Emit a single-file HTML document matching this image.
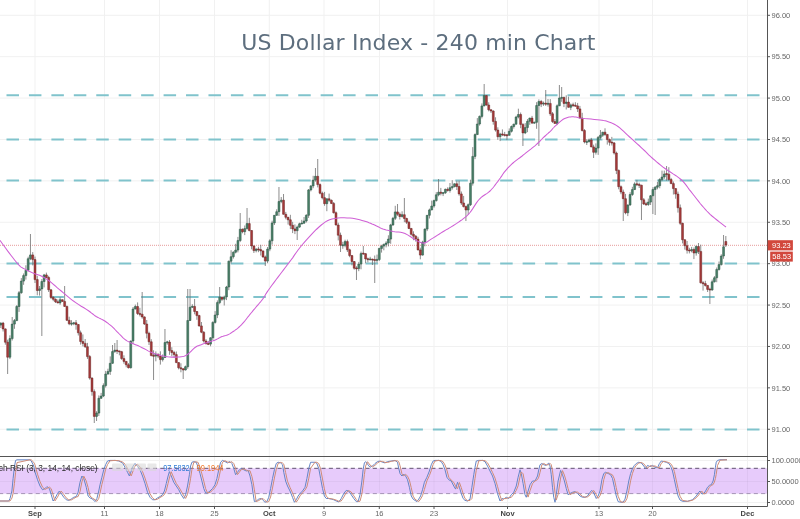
<!DOCTYPE html>
<html><head><meta charset="utf-8"><title>US Dollar Index - 240 min Chart</title>
<style>html,body{margin:0;padding:0;background:#fff;width:800px;height:519px;overflow:hidden}</style>
</head><body>
<svg width="800" height="519" viewBox="0 0 800 519" style="display:block;filter:blur(0.3px)">
<rect width="800" height="519" fill="#fff"/>
<path d="M35 0V506.5M104.5 0V506.5M159.5 0V506.5M214.5 0V506.5M269.3 0V506.5M324 0V506.5M379.5 0V506.5M434 0V506.5M507.5 0V506.5M599 0V506.5M652.5 0V506.5M747.5 0V506.5M0 15.3H767.5M0 56.69500000000001H767.5M0 98.09H767.5M0 139.485H767.5M0 180.88000000000002H767.5M0 222.27500000000003H767.5M0 263.67H767.5M0 305.06500000000005H767.5M0 346.46000000000004H767.5M0 387.855H767.5M0 429.25000000000006H767.5M0 460.5H767.5M0 481.5H767.5M0 502.5H767.5" stroke="#f1f1f1" stroke-width="1" fill="none"/>
<line x1="6.5" y1="95.3" x2="760" y2="95.3" stroke="#80c3cc" stroke-width="2" stroke-dasharray="12.5 9.94"/>
<line x1="6.5" y1="139.6" x2="760" y2="139.6" stroke="#80c3cc" stroke-width="2" stroke-dasharray="12.5 9.94"/>
<line x1="6.5" y1="180.5" x2="760" y2="180.5" stroke="#80c3cc" stroke-width="2" stroke-dasharray="12.5 9.94"/>
<line x1="6.5" y1="263.5" x2="760" y2="263.5" stroke="#80c3cc" stroke-width="2" stroke-dasharray="12.5 9.94"/>
<line x1="6.5" y1="297" x2="760" y2="297" stroke="#80c3cc" stroke-width="2" stroke-dasharray="12.5 9.94"/>
<line x1="6.5" y1="429.5" x2="760" y2="429.5" stroke="#80c3cc" stroke-width="2" stroke-dasharray="12.5 9.94"/>
<line x1="0" y1="245.3" x2="767.5" y2="245.3" stroke="#e79a9a" stroke-width="1" stroke-dasharray="1 1"/>
<path d="M0.80 322.3V328.0M3.08 321.9V331.5M5.36 328.4V344.7M7.64 339.7V374.0M9.92 335.3V359.1M12.20 317.0V340.5M14.48 319.0V328.8M16.76 305.1V321.1M19.04 291.0V311.9M21.32 278.1V293.8M23.60 273.5V284.8M25.88 265.3V279.6M28.16 256.7V271.4M30.44 234.0V260.1M32.72 252.1V265.4M35.00 256.6V283.0M37.28 275.8V295.3M39.56 286.0V295.6M41.84 279.1V336.0M44.12 273.9V287.4M46.40 272.6V278.0M48.68 275.8V292.0M50.96 289.2V298.9M53.24 296.1V301.2M55.52 298.4V303.0M57.80 299.5V303.3M60.08 297.2V304.8M62.36 299.4V301.9M64.64 286.0V306.8M66.92 305.7V320.9M69.20 316.7V325.2M71.48 320.2V325.7M73.76 321.9V325.2M76.04 320.0V329.7M78.32 324.1V335.5M80.60 330.6V344.6M82.88 334.4V346.4M85.16 339.0V348.0M87.44 342.9V358.9M89.72 355.0V379.7M92.00 377.3V395.7M94.28 389.4V423.0M96.56 411.2V421.0M98.84 395.4V416.0M101.12 392.9V398.9M103.40 383.4V397.1M105.68 370.9V387.5M107.96 368.7V374.8M110.24 356.4V374.9M112.52 345.0V363.8M114.80 343.0V352.8M117.08 340.0V354.0M119.36 350.6V355.3M121.64 350.9V359.8M123.92 355.3V363.7M126.20 361.0V367.3M128.48 363.1V368.5M130.76 340.5V368.6M133.04 307.0V344.0M135.32 304.6V309.4M137.60 302.4V315.0M139.88 307.8V316.4M142.16 292.0V318.7M144.44 316.4V324.9M146.72 320.0V338.4M149.00 331.7V345.0M151.28 339.2V356.3M153.56 350.3V380.0M155.84 351.4V361.3M158.12 353.7V358.1M160.40 351.3V364.6M162.68 354.4V361.5M164.96 329.0V357.8M167.24 340.8V344.7M169.52 340.0V354.8M171.80 347.2V356.2M174.08 350.9V357.6M176.36 351.5V363.1M178.64 362.3V369.4M180.92 363.3V372.3M183.20 368.4V379.0M185.48 365.6V370.5M187.76 289.0V368.8M190.04 289.0V321.0M192.32 304.2V308.0M194.60 299.0V314.3M196.88 311.1V319.8M199.16 314.8V326.6M201.44 322.0V333.2M203.72 331.1V342.5M206.00 339.1V344.2M208.28 340.9V345.1M210.56 337.3V346.3M212.84 321.3V340.0M215.12 311.1V323.6M217.40 300.4V318.1M219.68 287.0V304.2M221.96 296.6V300.9M224.24 295.6V305.5M226.52 285.9V300.1M228.80 260.6V290.2M231.08 250.2V263.4M233.36 251.3V258.6M235.64 243.8V253.4M237.92 236.9V252.4M240.20 213.0V242.1M242.48 228.5V233.3M244.76 225.5V235.1M247.04 208.0V229.5M249.32 217.8V231.4M251.60 230.2V249.3M253.88 245.6V253.0M256.16 248.2V252.4M258.44 246.7V252.2M260.72 244.8V255.5M263.00 250.6V257.9M265.28 255.5V266.0M267.56 247.0V263.2M269.84 239.2V251.2M272.12 220.7V244.5M274.40 215.0V225.0M276.68 209.3V215.8M278.96 187.0V216.0M281.24 197.0V203.2M283.52 194.0V214.6M285.80 211.9V219.3M288.08 216.9V224.6M290.36 214.8V229.1M292.64 221.8V233.1M294.92 224.4V234.1M297.20 225.6V240.0M299.48 222.7V227.8M301.76 219.8V224.3M304.04 217.0V223.6M306.32 214.2V222.5M308.60 189.0V217.9M310.88 185.1V191.4M313.16 175.8V188.2M315.44 168.0V181.7M317.72 159.0V187.4M320.00 183.4V194.3M322.28 191.6V199.4M324.56 191.9V205.8M326.84 198.4V211.2M329.12 193.6V201.9M331.40 199.5V204.1M333.68 202.0V213.6M335.96 211.4V225.4M338.24 222.7V240.4M340.52 232.6V252.0M342.80 241.8V248.8M345.08 239.7V247.3M347.36 239.6V252.0M349.64 248.7V257.2M351.92 255.0V265.4M354.20 261.1V269.7M356.48 266.2V280.0M358.76 261.9V271.2M361.04 251.6V269.3M363.32 246.0V254.8M365.60 253.0V263.2M367.88 257.6V262.4M370.16 256.8V260.3M372.44 258.7V265.0M374.72 255.5V283.0M377.00 254.6V262.7M379.28 247.8V261.0M381.56 244.8V252.6M383.84 243.6V250.3M386.12 241.2V247.4M388.40 235.3V246.4M390.68 223.8V243.8M392.96 216.9V225.9M395.24 205.8V220.0M397.52 204.0V215.8M399.80 212.4V219.5M402.08 211.3V217.6M404.36 198.0V222.2M406.64 217.7V224.0M408.92 220.8V229.1M411.20 227.9V235.6M413.48 231.3V240.2M415.76 235.0V241.6M418.04 236.8V250.4M420.32 247.7V259.3M422.60 240.8V255.6M424.88 228.3V246.3M427.16 215.0V231.1M429.44 208.6V218.5M431.72 200.6V210.3M434.00 199.6V207.7M436.28 192.2V201.6M438.56 179.0V196.3M440.84 187.9V195.4M443.12 192.2V196.1M445.40 188.6V193.9M447.68 187.3V191.6M449.96 183.0V192.6M452.24 180.2V189.6M454.52 183.4V187.4M456.80 180.8V190.0M459.08 180.7V195.7M461.36 191.5V204.9M463.64 195.9V207.4M465.92 205.6V221.0M468.20 203.5V214.6M470.48 179.7V206.0M472.76 147.1V185.6M475.04 133.4V159.1M477.32 118.1V135.0M479.60 115.5V125.6M481.88 103.4V118.4M484.16 84.0V106.3M486.44 95.1V105.7M488.72 102.3V111.4M491.00 109.2V113.0M493.28 110.3V124.7M495.56 117.3V131.6M497.84 127.3V139.8M500.12 132.8V141.1M502.40 129.4V136.1M504.68 131.9V136.4M506.96 134.1V140.1M509.24 128.4V135.6M511.52 125.5V132.5M513.80 123.7V128.6M516.08 115.8V124.6M518.36 108.7V118.4M520.64 112.5V128.2M522.92 123.2V146.0M525.20 123.1V134.1M527.48 119.1V132.2M529.76 117.7V124.8M532.04 115.9V123.9M534.32 121.7V123.8M536.60 102.2V128.8M538.88 99.4V146.0M541.16 99.9V107.1M543.44 101.5V105.9M545.72 90.0V105.9M548.00 99.0V106.6M550.28 99.1V115.9M552.56 112.0V122.9M554.84 119.0V123.9M557.12 104.4V125.1M559.40 85.0V106.1M561.68 87.0V101.8M563.96 96.5V107.1M566.24 95.3V109.5M568.52 96.6V107.7M570.80 103.5V110.1M573.08 102.7V106.8M575.36 102.2V106.8M577.64 102.9V112.0M579.92 105.9V118.5M582.20 112.8V131.5M584.48 129.1V143.4M586.76 139.2V145.0M589.04 138.6V142.2M591.32 137.9V147.2M593.60 144.7V158.0M595.88 143.4V154.6M598.16 136.0V154.9M600.44 130.0V139.6M602.72 131.8V136.9M605.00 128.3V135.9M607.28 134.1V144.6M609.56 138.5V145.7M611.84 136.9V145.5M614.12 142.0V154.5M616.40 151.6V174.1M618.68 169.5V189.3M620.96 185.4V194.2M623.24 189.6V221.0M625.52 193.9V214.3M627.80 204.3V216.1M630.08 192.2V205.8M632.36 186.8V195.9M634.64 182.3V190.0M636.92 179.9V186.1M639.20 182.7V188.0M641.48 184.8V220.0M643.76 198.0V205.0M646.04 201.8V205.9M648.32 198.6V205.9M650.60 195.0V205.0M652.88 187.2V214.0M655.16 186.1V215.0M657.44 181.9V189.3M659.72 178.2V188.3M662.00 170.6V181.2M664.28 170.6V178.9M666.56 166.0V180.7M668.84 167.2V180.9M671.12 177.9V184.1M673.40 181.5V194.5M675.68 188.1V198.7M677.96 191.6V212.6M680.24 204.5V225.1M682.52 222.7V243.4M684.80 239.2V249.6M687.08 241.0V253.6M689.36 247.8V253.4M691.64 246.9V252.4M693.92 247.5V259.1M696.20 245.4V255.6M698.48 243.0V254.0M700.76 244.7V283.5M703.04 281.1V290.6M705.32 280.8V286.6M707.60 285.1V292.0M709.88 287.7V304.0M712.16 279.5V290.9M714.44 276.1V282.5M716.72 267.5V282.2M719.00 261.5V270.6M721.28 254.3V265.5M723.56 235.0V258.8M725.84 236.0V247.0" stroke="#707070" stroke-width="0.8" fill="none"/>
<path d="M-0.15 323.1h1.9V325.1h-1.9zM8.97 338.6h1.9V357.2h-1.9zM11.25 324.1h1.9V338.6h-1.9zM13.53 320.6h1.9V324.1h-1.9zM15.81 306.5h1.9V320.6h-1.9zM18.09 292.7h1.9V306.5h-1.9zM20.37 281.1h1.9V292.7h-1.9zM22.65 275.6h1.9V281.1h-1.9zM24.93 270.3h1.9V275.6h-1.9zM27.21 258.7h1.9V270.3h-1.9zM29.49 254.9h1.9V258.7h-1.9zM38.61 288.9h1.9V290.5h-1.9zM40.89 281.5h1.9V288.9h-1.9zM43.17 274.9h1.9V281.5h-1.9zM59.13 299.7h1.9V302.9h-1.9zM70.53 323.2h1.9V324.2h-1.9zM72.81 322.7h1.9V323.7h-1.9zM95.61 413.1h1.9V416.4h-1.9zM97.89 398.3h1.9V413.1h-1.9zM100.17 396.0h1.9V398.3h-1.9zM102.45 385.6h1.9V396.0h-1.9zM104.73 374.0h1.9V385.6h-1.9zM107.01 371.4h1.9V374.0h-1.9zM109.29 363.3h1.9V371.4h-1.9zM111.57 351.6h1.9V363.3h-1.9zM113.85 350.1h1.9V351.6h-1.9zM129.81 341.0h1.9V367.7h-1.9zM132.09 309.0h1.9V341.0h-1.9zM134.37 306.5h1.9V309.0h-1.9zM154.89 354.1h1.9V356.1h-1.9zM161.73 357.5h1.9V359.6h-1.9zM164.01 342.5h1.9V357.5h-1.9zM166.29 341.8h1.9V342.8h-1.9zM184.53 366.7h1.9V370.0h-1.9zM186.81 320.5h1.9V366.7h-1.9zM189.09 307.2h1.9V320.5h-1.9zM191.37 306.3h1.9V307.3h-1.9zM209.61 337.8h1.9V344.1h-1.9zM211.89 322.4h1.9V337.8h-1.9zM214.17 315.0h1.9V322.4h-1.9zM216.45 302.6h1.9V315.0h-1.9zM218.73 297.2h1.9V302.6h-1.9zM223.29 296.9h1.9V299.2h-1.9zM225.57 287.0h1.9V296.9h-1.9zM227.85 261.2h1.9V287.0h-1.9zM230.13 256.7h1.9V261.2h-1.9zM232.41 252.2h1.9V256.7h-1.9zM234.69 250.1h1.9V252.2h-1.9zM236.97 240.5h1.9V250.1h-1.9zM239.25 229.2h1.9V240.5h-1.9zM243.81 228.6h1.9V231.7h-1.9zM246.09 223.6h1.9V228.6h-1.9zM255.21 249.1h1.9V250.6h-1.9zM266.61 249.1h1.9V261.1h-1.9zM268.89 240.8h1.9V249.1h-1.9zM271.17 222.9h1.9V240.8h-1.9zM273.45 215.3h1.9V222.9h-1.9zM275.73 211.7h1.9V215.3h-1.9zM278.01 201.5h1.9V211.7h-1.9zM280.29 200.2h1.9V201.5h-1.9zM296.25 227.1h1.9V230.7h-1.9zM298.53 223.8h1.9V227.1h-1.9zM300.81 223.0h1.9V224.0h-1.9zM303.09 221.0h1.9V223.2h-1.9zM305.37 215.3h1.9V221.0h-1.9zM307.65 189.9h1.9V215.3h-1.9zM309.93 185.9h1.9V189.9h-1.9zM312.21 180.1h1.9V185.9h-1.9zM314.49 176.3h1.9V180.1h-1.9zM325.89 198.8h1.9V203.7h-1.9zM341.85 244.8h1.9V245.8h-1.9zM344.13 241.6h1.9V245.3h-1.9zM357.81 264.1h1.9V268.6h-1.9zM360.09 253.6h1.9V264.1h-1.9zM369.21 258.9h1.9V259.9h-1.9zM376.05 259.4h1.9V260.4h-1.9zM378.33 248.4h1.9V259.5h-1.9zM380.61 246.1h1.9V248.4h-1.9zM382.89 244.4h1.9V246.1h-1.9zM385.17 243.0h1.9V244.4h-1.9zM387.45 239.1h1.9V243.0h-1.9zM389.73 224.9h1.9V239.1h-1.9zM392.01 218.3h1.9V224.9h-1.9zM394.29 211.9h1.9V218.3h-1.9zM401.13 214.7h1.9V216.5h-1.9zM421.65 242.1h1.9V255.1h-1.9zM423.93 229.1h1.9V242.1h-1.9zM426.21 215.3h1.9V229.1h-1.9zM428.49 209.9h1.9V215.3h-1.9zM430.77 206.0h1.9V209.9h-1.9zM433.05 200.6h1.9V206.0h-1.9zM435.33 194.8h1.9V200.6h-1.9zM437.61 192.2h1.9V194.8h-1.9zM442.17 192.6h1.9V193.6h-1.9zM444.45 189.3h1.9V192.8h-1.9zM449.01 187.7h1.9V190.5h-1.9zM451.29 186.6h1.9V187.7h-1.9zM453.57 183.8h1.9V186.6h-1.9zM467.25 204.7h1.9V210.0h-1.9zM469.53 183.2h1.9V204.7h-1.9zM471.81 156.4h1.9V183.2h-1.9zM474.09 134.6h1.9V156.4h-1.9zM476.37 124.0h1.9V134.6h-1.9zM478.65 116.4h1.9V124.0h-1.9zM480.93 105.9h1.9V116.4h-1.9zM483.21 95.6h1.9V105.9h-1.9zM499.17 134.0h1.9V136.7h-1.9zM508.29 131.3h1.9V135.3h-1.9zM510.57 126.5h1.9V131.3h-1.9zM512.85 124.2h1.9V126.5h-1.9zM515.13 117.0h1.9V124.2h-1.9zM517.41 114.5h1.9V117.0h-1.9zM524.25 127.6h1.9V132.9h-1.9zM526.53 121.3h1.9V127.6h-1.9zM528.81 118.1h1.9V121.3h-1.9zM533.37 122.2h1.9V123.2h-1.9zM535.65 105.5h1.9V122.3h-1.9zM537.93 101.5h1.9V105.5h-1.9zM542.49 103.1h1.9V104.1h-1.9zM547.05 103.3h1.9V104.3h-1.9zM556.17 105.8h1.9V123.4h-1.9zM558.45 98.0h1.9V105.8h-1.9zM560.73 97.3h1.9V98.3h-1.9zM565.29 102.1h1.9V103.4h-1.9zM569.85 104.9h1.9V107.3h-1.9zM585.81 141.4h1.9V142.4h-1.9zM588.09 139.9h1.9V141.8h-1.9zM594.93 148.1h1.9V152.3h-1.9zM597.21 137.4h1.9V148.1h-1.9zM599.49 135.2h1.9V137.4h-1.9zM601.77 132.2h1.9V135.2h-1.9zM626.85 205.0h1.9V212.8h-1.9zM629.13 194.5h1.9V205.0h-1.9zM631.41 189.6h1.9V194.5h-1.9zM633.69 183.9h1.9V189.6h-1.9zM647.37 202.1h1.9V204.5h-1.9zM649.65 195.8h1.9V202.1h-1.9zM651.93 189.5h1.9V195.8h-1.9zM654.21 187.2h1.9V189.5h-1.9zM656.49 185.7h1.9V187.2h-1.9zM658.77 179.6h1.9V185.7h-1.9zM661.05 177.0h1.9V179.6h-1.9zM663.33 174.0h1.9V177.0h-1.9zM690.69 249.5h1.9V250.8h-1.9zM695.25 246.5h1.9V253.0h-1.9zM711.21 281.8h1.9V289.9h-1.9zM713.49 277.8h1.9V281.8h-1.9zM715.77 269.5h1.9V277.8h-1.9zM718.05 264.6h1.9V269.5h-1.9zM720.33 256.0h1.9V264.6h-1.9zM722.61 246.8h1.9V256.0h-1.9z" fill="#4a8068" stroke="#2a5444" stroke-width="0.5"/>
<path d="M2.13 323.1h1.9V328.9h-1.9zM4.41 328.9h1.9V342.2h-1.9zM6.69 342.2h1.9V357.2h-1.9zM31.77 254.9h1.9V259.6h-1.9zM34.05 259.6h1.9V279.6h-1.9zM36.33 279.6h1.9V290.5h-1.9zM45.45 274.9h1.9V277.5h-1.9zM47.73 277.5h1.9V289.8h-1.9zM50.01 289.8h1.9V297.4h-1.9zM52.29 297.4h1.9V299.3h-1.9zM54.57 299.3h1.9V301.8h-1.9zM56.85 301.8h1.9V302.9h-1.9zM61.41 299.7h1.9V301.4h-1.9zM63.69 301.4h1.9V306.4h-1.9zM65.97 306.4h1.9V320.3h-1.9zM68.25 320.3h1.9V323.8h-1.9zM75.09 322.8h1.9V324.5h-1.9zM77.37 324.5h1.9V332.8h-1.9zM79.65 332.8h1.9V341.5h-1.9zM81.93 341.5h1.9V343.4h-1.9zM84.21 343.4h1.9V346.7h-1.9zM86.49 346.7h1.9V356.6h-1.9zM88.77 356.6h1.9V378.1h-1.9zM91.05 378.1h1.9V391.6h-1.9zM93.33 391.6h1.9V416.4h-1.9zM116.13 350.1h1.9V351.2h-1.9zM118.41 350.9h1.9V351.9h-1.9zM120.69 351.7h1.9V358.6h-1.9zM122.97 358.6h1.9V361.4h-1.9zM125.25 361.4h1.9V364.8h-1.9zM127.53 364.8h1.9V367.7h-1.9zM136.65 306.5h1.9V313.5h-1.9zM138.93 313.4h1.9V314.4h-1.9zM141.21 314.2h1.9V316.9h-1.9zM143.49 316.9h1.9V324.0h-1.9zM145.77 324.0h1.9V333.3h-1.9zM148.05 333.3h1.9V341.8h-1.9zM150.33 341.8h1.9V355.6h-1.9zM152.61 355.3h1.9V356.3h-1.9zM157.17 354.1h1.9V356.1h-1.9zM159.45 356.1h1.9V359.6h-1.9zM168.57 342.1h1.9V350.6h-1.9zM170.85 350.6h1.9V352.5h-1.9zM173.13 352.5h1.9V354.6h-1.9zM175.41 354.6h1.9V362.6h-1.9zM177.69 362.6h1.9V367.8h-1.9zM179.97 367.8h1.9V368.8h-1.9zM182.25 368.7h1.9V370.0h-1.9zM193.65 306.4h1.9V311.5h-1.9zM195.93 311.5h1.9V315.6h-1.9zM198.21 315.6h1.9V325.9h-1.9zM200.49 325.9h1.9V332.2h-1.9zM202.77 332.2h1.9V341.0h-1.9zM205.05 341.0h1.9V343.8h-1.9zM207.33 343.4h1.9V344.4h-1.9zM221.01 297.2h1.9V299.2h-1.9zM241.53 229.2h1.9V231.7h-1.9zM248.37 223.6h1.9V230.5h-1.9zM250.65 230.5h1.9V245.9h-1.9zM252.93 245.9h1.9V250.6h-1.9zM257.49 248.9h1.9V249.9h-1.9zM259.77 249.6h1.9V250.9h-1.9zM262.05 250.9h1.9V256.9h-1.9zM264.33 256.9h1.9V261.1h-1.9zM282.57 200.2h1.9V214.3h-1.9zM284.85 214.3h1.9V217.3h-1.9zM287.13 217.3h1.9V219.8h-1.9zM289.41 219.8h1.9V225.3h-1.9zM291.69 225.3h1.9V228.9h-1.9zM293.97 228.9h1.9V230.7h-1.9zM316.77 176.3h1.9V184.6h-1.9zM319.05 184.6h1.9V193.2h-1.9zM321.33 193.2h1.9V197.7h-1.9zM323.61 197.7h1.9V203.7h-1.9zM328.17 198.8h1.9V200.3h-1.9zM330.45 200.3h1.9V203.4h-1.9zM332.73 203.4h1.9V212.7h-1.9zM335.01 212.7h1.9V225.0h-1.9zM337.29 225.0h1.9V235.2h-1.9zM339.57 235.2h1.9V245.3h-1.9zM346.41 241.6h1.9V249.8h-1.9zM348.69 249.8h1.9V255.6h-1.9zM350.97 255.6h1.9V261.5h-1.9zM353.25 261.5h1.9V268.2h-1.9zM355.53 267.9h1.9V268.9h-1.9zM362.37 253.1h1.9V254.1h-1.9zM364.65 253.7h1.9V258.9h-1.9zM366.93 258.7h1.9V259.7h-1.9zM371.49 259.1h1.9V260.1h-1.9zM373.77 259.6h1.9V260.6h-1.9zM396.57 211.9h1.9V214.2h-1.9zM398.85 214.2h1.9V216.5h-1.9zM403.41 214.7h1.9V218.5h-1.9zM405.69 218.5h1.9V222.3h-1.9zM407.97 222.3h1.9V228.5h-1.9zM410.25 228.5h1.9V234.3h-1.9zM412.53 234.3h1.9V236.2h-1.9zM414.81 236.2h1.9V239.1h-1.9zM417.09 239.1h1.9V249.9h-1.9zM419.37 249.9h1.9V255.1h-1.9zM439.89 192.2h1.9V193.3h-1.9zM446.73 189.3h1.9V190.5h-1.9zM455.85 183.8h1.9V186.5h-1.9zM458.13 186.5h1.9V193.9h-1.9zM460.41 193.9h1.9V203.0h-1.9zM462.69 203.0h1.9V206.6h-1.9zM464.97 206.6h1.9V210.0h-1.9zM485.49 95.6h1.9V105.0h-1.9zM487.77 105.0h1.9V109.8h-1.9zM490.05 109.8h1.9V111.0h-1.9zM492.33 111.0h1.9V121.4h-1.9zM494.61 121.4h1.9V130.1h-1.9zM496.89 130.1h1.9V136.7h-1.9zM501.45 133.9h1.9V134.9h-1.9zM503.73 134.6h1.9V135.6h-1.9zM506.01 134.8h1.9V135.8h-1.9zM519.69 114.5h1.9V124.4h-1.9zM521.97 124.4h1.9V132.9h-1.9zM531.09 118.1h1.9V123.1h-1.9zM540.21 101.5h1.9V104.1h-1.9zM544.77 103.1h1.9V104.2h-1.9zM549.33 103.4h1.9V113.8h-1.9zM551.61 113.8h1.9V121.6h-1.9zM553.89 121.6h1.9V123.4h-1.9zM563.01 97.5h1.9V103.4h-1.9zM567.57 102.1h1.9V107.3h-1.9zM572.13 104.7h1.9V105.7h-1.9zM574.41 105.2h1.9V106.2h-1.9zM576.69 105.9h1.9V108.9h-1.9zM578.97 108.9h1.9V118.1h-1.9zM581.25 118.1h1.9V130.5h-1.9zM583.53 130.5h1.9V141.9h-1.9zM590.37 139.9h1.9V146.9h-1.9zM592.65 146.9h1.9V152.3h-1.9zM604.05 132.2h1.9V134.4h-1.9zM606.33 134.4h1.9V139.6h-1.9zM608.61 139.6h1.9V142.3h-1.9zM610.89 142.1h1.9V143.1h-1.9zM613.17 142.9h1.9V153.0h-1.9zM615.45 153.0h1.9V170.4h-1.9zM617.73 170.4h1.9V186.7h-1.9zM620.01 186.7h1.9V192.0h-1.9zM622.29 192.0h1.9V198.7h-1.9zM624.57 198.7h1.9V212.8h-1.9zM635.97 183.8h1.9V184.8h-1.9zM638.25 184.4h1.9V185.4h-1.9zM640.53 185.2h1.9V199.8h-1.9zM642.81 199.8h1.9V204.0h-1.9zM645.09 203.7h1.9V204.7h-1.9zM665.61 173.6h1.9V174.6h-1.9zM667.89 174.2h1.9V179.5h-1.9zM670.17 179.5h1.9V183.6h-1.9zM672.45 183.6h1.9V188.6h-1.9zM674.73 188.6h1.9V194.1h-1.9zM677.01 194.1h1.9V207.8h-1.9zM679.29 207.8h1.9V223.3h-1.9zM681.57 223.3h1.9V239.8h-1.9zM683.85 239.8h1.9V245.7h-1.9zM686.13 245.7h1.9V250.2h-1.9zM688.41 250.0h1.9V251.0h-1.9zM692.97 249.5h1.9V253.0h-1.9zM697.53 246.5h1.9V251.4h-1.9zM699.81 251.4h1.9V282.8h-1.9zM702.09 282.7h1.9V283.7h-1.9zM704.37 283.6h1.9V285.4h-1.9zM706.65 285.4h1.9V289.4h-1.9zM708.93 289.1h1.9V290.1h-1.9zM724.89 241.5h1.9V245.0h-1.9z" fill="#a83a3a" stroke="#6a2222" stroke-width="0.5"/>
<path d="M0.0 240.4 L1.0 241.8 L2.4 243.7 L4.1 246.0 L5.9 248.5 L7.6 250.9 L9.3 253.1 L10.9 255.2 L12.5 257.3 L14.2 259.5 L15.8 261.5 L17.2 263.2 L18.5 264.7 L19.5 265.7 L20.2 266.4 L20.8 266.9 L21.4 267.3 L22.1 267.6 L23.1 268.2 L24.4 268.9 L25.9 269.7 L27.5 270.5 L29.1 271.3 L30.8 272.1 L32.4 272.8 L34.0 273.4 L35.5 274.0 L37.1 274.5 L38.7 275.0 L40.2 275.6 L41.7 276.3 L43.1 277.0 L44.5 277.8 L45.9 278.6 L47.2 279.5 L48.6 280.5 L50.0 281.5 L51.4 282.6 L52.8 283.8 L54.2 285.0 L55.8 286.3 L57.4 287.8 L59.2 289.3 L61.2 291.0 L63.4 292.9 L65.8 294.9 L68.2 296.9 L70.6 298.9 L73.1 300.8 L75.7 302.6 L78.4 304.4 L81.2 306.2 L83.9 307.8 L86.4 309.4 L88.5 310.8 L90.2 312.0 L91.6 313.1 L92.8 314.0 L93.9 314.9 L95.0 315.7 L96.2 316.5 L97.5 317.2 L98.8 317.9 L100.1 318.5 L101.3 319.1 L102.6 319.8 L103.9 320.5 L105.2 321.3 L106.5 322.2 L107.8 323.1 L109.0 324.1 L110.3 325.1 L111.6 326.2 L112.9 327.4 L114.2 328.7 L115.4 330.0 L116.7 331.4 L118.0 332.7 L119.3 334.0 L120.5 335.2 L121.7 336.4 L122.8 337.6 L124.0 338.7 L125.4 339.8 L127.0 340.9 L128.9 341.9 L131.0 342.9 L133.2 343.8 L135.5 344.7 L137.8 345.6 L140.0 346.6 L142.1 347.7 L144.3 348.8 L146.4 349.9 L148.5 351.1 L150.6 352.1 L152.7 353.0 L154.8 353.8 L157.0 354.5 L159.1 355.1 L161.3 355.7 L163.4 356.1 L165.5 356.5 L167.6 356.8 L169.8 357.0 L172.0 357.1 L174.1 357.1 L176.1 357.1 L178.0 357.0 L179.7 356.9 L181.2 356.7 L182.6 356.5 L184.0 356.2 L185.3 355.7 L186.7 355.0 L188.1 354.0 L189.6 352.7 L191.0 351.3 L192.4 349.9 L193.7 348.6 L195.0 347.5 L196.2 346.7 L197.3 346.1 L198.4 345.7 L199.5 345.3 L200.6 344.9 L201.7 344.5 L202.8 344.0 L204.0 343.6 L205.1 343.2 L206.2 342.8 L207.4 342.4 L208.5 342.0 L209.6 341.7 L210.7 341.4 L211.8 341.1 L213.0 340.8 L214.1 340.4 L215.2 340.0 L216.3 339.5 L217.5 338.9 L218.7 338.2 L219.8 337.6 L220.9 337.0 L222.0 336.5 L223.0 336.2 L223.9 335.9 L224.8 335.7 L225.7 335.6 L226.5 335.3 L227.4 335.0 L228.3 334.6 L229.2 334.1 L230.1 333.6 L231.0 333.0 L231.9 332.4 L232.8 331.8 L233.7 331.2 L234.6 330.6 L235.5 329.9 L236.4 329.3 L237.3 328.6 L238.2 327.8 L239.1 327.0 L240.0 326.2 L240.9 325.3 L241.8 324.4 L242.7 323.4 L243.6 322.4 L244.5 321.4 L245.4 320.3 L246.2 319.2 L247.1 318.0 L248.0 316.8 L249.0 315.6 L250.0 314.3 L251.1 313.0 L252.3 311.6 L253.4 310.2 L254.6 308.9 L255.7 307.5 L256.8 306.2 L258.0 304.8 L259.1 303.5 L260.3 302.2 L261.4 300.8 L262.5 299.4 L263.5 298.0 L264.4 296.6 L265.2 295.2 L266.1 293.6 L267.2 291.9 L268.5 290.0 L270.1 287.8 L271.9 285.2 L273.9 282.6 L276.0 279.8 L278.0 277.1 L280.0 274.5 L281.9 272.0 L283.7 269.6 L285.5 267.2 L287.4 264.8 L289.2 262.4 L291.0 260.0 L292.8 257.6 L294.4 255.1 L296.1 252.7 L297.9 250.2 L299.8 247.7 L302.0 245.0 L304.5 242.1 L307.4 238.9 L310.4 235.6 L313.4 232.4 L316.3 229.5 L319.0 227.0 L321.3 225.0 L323.4 223.3 L325.4 221.9 L327.4 220.8 L329.6 219.8 L332.0 219.0 L334.8 218.4 L337.8 218.0 L340.9 217.8 L344.1 217.8 L347.2 217.9 L350.0 218.0 L352.6 218.3 L355.1 218.7 L357.5 219.2 L359.8 219.8 L362.0 220.4 L364.0 221.0 L365.8 221.5 L367.5 222.1 L369.0 222.7 L370.5 223.2 L372.0 223.9 L373.5 224.5 L375.1 225.2 L376.6 226.0 L378.2 226.8 L379.8 227.6 L381.4 228.4 L383.0 229.0 L384.6 229.5 L386.2 230.0 L387.8 230.3 L389.5 230.7 L391.2 231.0 L393.0 231.4 L394.8 231.7 L396.7 231.9 L398.6 232.1 L400.6 232.3 L402.7 232.8 L405.0 233.6 L407.6 234.9 L410.6 236.7 L413.6 238.7 L416.7 240.6 L419.5 242.1 L422.0 243.0 L424.1 243.1 L425.8 242.6 L427.4 241.8 L428.9 240.7 L430.4 239.6 L432.0 238.6 L433.7 237.6 L435.5 236.5 L437.2 235.4 L439.0 234.3 L440.7 233.1 L442.5 232.0 L444.2 231.0 L446.0 229.9 L447.7 229.0 L449.5 227.9 L451.2 226.9 L453.0 225.8 L454.8 224.6 L456.7 223.4 L458.6 222.1 L460.5 220.8 L462.2 219.6 L463.7 218.4 L465.0 217.4 L466.0 216.6 L466.9 215.8 L467.8 215.0 L468.8 213.9 L470.0 212.5 L471.4 210.6 L472.9 208.4 L474.5 205.9 L476.1 203.4 L477.8 201.0 L479.5 199.0 L481.2 197.4 L483.0 196.0 L484.9 194.7 L486.7 193.6 L488.4 192.4 L490.0 191.0 L491.4 189.5 L492.8 188.0 L494.0 186.5 L495.2 184.9 L496.4 183.3 L497.7 181.6 L499.0 179.8 L500.3 178.0 L501.6 176.1 L502.8 174.2 L504.1 172.4 L505.4 170.8 L506.7 169.3 L507.9 167.9 L509.2 166.6 L510.5 165.4 L511.7 164.2 L513.0 163.0 L514.3 161.9 L515.6 160.9 L516.9 159.9 L518.2 158.9 L519.5 158.0 L520.8 157.0 L522.1 156.0 L523.4 154.9 L524.7 153.9 L525.9 152.9 L527.2 151.8 L528.5 150.8 L529.8 149.8 L531.1 148.8 L532.3 147.8 L533.6 146.8 L534.9 145.8 L536.2 144.7 L537.5 143.5 L538.9 142.2 L540.2 140.8 L541.5 139.5 L542.8 138.2 L544.0 137.0 L545.1 136.0 L546.1 135.1 L547.1 134.2 L548.1 133.4 L549.0 132.5 L550.0 131.6 L551.0 130.6 L551.9 129.6 L552.8 128.5 L553.8 127.5 L554.8 126.4 L556.0 125.3 L557.3 124.1 L558.7 122.9 L560.2 121.6 L561.7 120.4 L563.2 119.3 L564.7 118.5 L566.1 117.9 L567.6 117.4 L569.0 117.1 L570.4 116.9 L571.9 116.8 L573.3 116.8 L574.6 116.9 L575.8 117.1 L577.1 117.3 L578.4 117.7 L580.0 118.0 L582.0 118.3 L584.6 118.6 L587.6 118.8 L591.0 119.1 L594.3 119.4 L597.4 119.7 L600.0 120.0 L602.0 120.3 L603.6 120.6 L605.0 120.8 L606.3 121.1 L607.5 121.5 L608.9 122.0 L610.4 122.5 L611.8 123.1 L613.3 123.7 L614.8 124.5 L616.3 125.4 L618.0 126.5 L619.8 127.9 L621.7 129.6 L623.7 131.4 L625.7 133.3 L627.6 135.2 L629.6 137.0 L631.5 138.7 L633.4 140.4 L635.3 142.1 L637.2 143.8 L639.1 145.5 L641.0 147.3 L642.9 149.1 L644.9 151.0 L646.8 152.9 L648.7 154.8 L650.7 156.7 L652.7 158.5 L654.7 160.2 L656.6 161.9 L658.6 163.5 L660.6 165.1 L662.7 166.8 L665.0 168.5 L667.5 170.3 L670.3 172.0 L673.1 173.9 L676.0 175.7 L678.6 177.6 L681.0 179.5 L683.0 181.4 L684.7 183.4 L686.3 185.4 L687.8 187.5 L689.3 189.6 L691.0 191.7 L692.8 194.0 L694.6 196.3 L696.5 198.8 L698.4 201.2 L700.2 203.5 L702.0 205.6 L703.7 207.5 L705.3 209.3 L706.8 211.0 L708.4 212.6 L710.1 214.3 L712.0 216.0 L714.3 217.9 L716.9 220.0 L719.6 222.2 L722.2 224.1 L724.4 225.8 L726.0 227.0" stroke="#cf5fd5" stroke-width="1.05" fill="none"/>
<text x="241.2" y="49.7" font-family="DejaVu Sans, sans-serif" font-size="22" fill="#5d6e7e" letter-spacing="0.15">US Dollar Index - 240 min Chart</text>
<rect x="0" y="468.3" width="767.5" height="25.3" fill="#e7cbfb"/>
<path d="M0 481.5H767.5M35 468.3V493.6M104.5 468.3V493.6M159.5 468.3V493.6M214.5 468.3V493.6M269.3 468.3V493.6M324 468.3V493.6M379.5 468.3V493.6M434 468.3V493.6M507.5 468.3V493.6M599 468.3V493.6M652.5 468.3V493.6M747.5 468.3V493.6" stroke="#000" stroke-opacity="0.035" stroke-width="1"/>
<line x1="0" y1="468.3" x2="767.5" y2="468.3" stroke="#5f5070" stroke-width="1" stroke-dasharray="4.1 3.227" stroke-dashoffset="0.9"/>
<line x1="0" y1="493.6" x2="767.5" y2="493.6" stroke="#a493b5" stroke-width="1" stroke-dasharray="4.1 3.227" stroke-dashoffset="0.9"/>
<path d="M0 501 L8.75 501 L10 498.5 L11.9 491 L13.1 478.5 L14.4 467 L15.6 460.4 L17 459.8 L30 459.8 L31.25 461 L33.75 466 L35 472 L37.5 479.75 L40 486 L42.5 489.75 L45 488.5 L46.9 486.6 L49.4 488.5 L51.25 494.75 L53.1 501 L55 498.5 L57.5 493.5 L59.4 491 L61.25 493.5 L63.75 497.25 L66.25 499.75 L68.75 500.4 L71.25 499 L73.75 497.25 L76.25 496.6 L78.1 492.25 L80 482.25 L81.9 476 L83.75 478.5 L86.25 487.25 L88.1 496 L90 497.9 L92.5 499 L95 501.6 L96.9 498.5 L98.75 491 L100 484.75 L101.9 477.25 L103.75 469.75 L105.6 464.75 L107.5 461 L110 460.4 L115 460.4 L118.75 461 L122.5 462.9 L125 467.25 L127.5 472.25 L129.4 476 L131.25 471 L133.1 466 L135 463.5 L137.5 466 L140 469.75 L142.5 476 L145 483.5 L147.5 492.25 L150 497.25 L152.5 499.75 L155 499.75 L157.5 497.9 L160 496.6 L162.5 494.75 L164.4 491 L166.25 483.5 L168.1 476 L169.4 471.6 L171.25 476 L173.75 482.25 L176.25 486 L178.75 489.75 L181.25 494.75 L183.75 498.5 L185.6 494.75 L187.5 486 L189.4 474.75 L190.6 466 L191.9 462.25 L193.75 461.6 L196.25 462.25 L198.1 467.25 L200 473.5 L201.9 481 L203.75 488.5 L205.6 492.9 L207.5 492.9 L210 491 L212.5 488.5 L215 484.75 L216.9 478.5 L218.75 469.75 L220.6 462.25 L222.5 460.4 L225 461.6 L227.5 462.9 L230 461.6 L231.9 463.5 L233.75 468.5 L235.6 474.75 L237.5 472.25 L239.4 469.75 L241.25 468.5 L243.75 469.75 L246.25 471 L248.1 470.4 L250 476 L251.9 484.75 L253.1 493.5 L254.4 501.6 L256.25 501 L258.75 499.1 L261.25 498.5 L263.1 500.4 L265 502.25 L266.9 501.6 L268.75 497.25 L270.6 488.5 L272.5 478.5 L274.4 469.75 L276.25 463.5 L278.1 462.25 L280.6 462.9 L282.5 464.75 L283.75 472.25 L285.6 481 L287.5 486 L290 491 L292.5 497.25 L294.4 502.25 L296.25 499.75 L298.1 496 L300 493.5 L302.5 491 L305 487.25 L306.9 478.5 L308.75 468.5 L310.6 462.25 L315 462.25 L316.9 463.5 L318.75 468.5 L320.6 478.5 L322.5 488.5 L324.4 496 L326.25 498.5 L328.75 498.5 L331.25 499.1 L333.75 499.75 L336.25 501 L338.75 502 L341.25 498.5 L343.75 493.5 L346.25 490.4 L348.75 491 L351.25 494.75 L353.75 498.5 L356.25 501.6 L358.1 501.6 L360 494.75 L361.9 481 L363.1 469.75 L364.4 462.9 L365.6 461.6 L367.5 464.1 L370 467.25 L372.5 466 L375 463.5 L377.5 461.6 L380 461 L382.5 462.25 L385 462.9 L387.5 461.6 L391.25 461 L395 460.4 L397.5 462.25 L398.75 468.5 L400 473.5 L401.9 476 L403.75 474.1 L405.6 476 L407.5 479.75 L409.4 487.25 L411.25 496 L413.1 499.1 L415 500.4 L416.9 501.6 L418.75 499.1 L420.6 496 L422.5 489.75 L424.4 482.25 L426.9 477.25 L429.4 471 L431.25 464.75 L433.1 461 L435 460.4 L438.75 460.4 L441.25 461.6 L443.1 464.75 L445 469.75 L446.9 477.25 L448.75 479.75 L451.25 481 L453.75 486 L455.6 489.1 L457.5 482.25 L459.4 487.25 L461.25 493.5 L463.1 498.5 L465 500.4 L467.5 501 L470 499.1 L471.9 487.25 L473.75 474.75 L475 467.25 L476.25 461 L478.75 460.4 L482.5 460.4 L485 461.6 L487.5 466 L490 471 L492.5 476 L495 483.5 L497.5 493.5 L500 501 L501.9 498.5 L503.75 499.1 L506.25 497.25 L508.75 498.5 L511.25 494.75 L513.75 492.25 L516.25 486 L518.1 477.25 L520 469.75 L521.25 473.5 L523.1 483.5 L525 494.75 L526.25 497.25 L528.1 491 L530 484.75 L532.5 481 L535 481 L537.5 476 L538.75 469.75 L540 464.75 L541.9 463.5 L543.75 464.75 L546.25 465.4 L548.75 462.9 L550 466 L551.25 474.75 L552.5 487.25 L553.75 497.25 L555 502.25 L556.25 494.75 L558.1 481 L560.6 470.4 L562.5 474.75 L564.4 481 L566.25 488.5 L568.1 494.75 L570 493.5 L572.5 492.25 L575 491.6 L577.5 493.5 L580 496 L582.5 497.25 L585 497.25 L587.5 496 L590 492.25 L591.9 490.4 L593.75 492.9 L596.25 498.5 L598.1 496 L600 491 L601.9 479.75 L603.75 473.5 L605.6 472.25 L608.1 473.5 L610.6 474.75 L612.5 478.5 L614.4 487.25 L616.25 496 L618.1 501.6 L620.6 502.25 L623.1 502.25 L625 499.1 L626.9 491 L628.75 481 L630.6 473.5 L632.5 468.5 L634.4 465.4 L636.25 463.5 L638.75 462.25 L641.25 462.9 L643.75 466 L645.6 468.5 L647.5 465.4 L650 466.6 L652.5 465.4 L655 467.25 L657.5 467.9 L659.4 463.5 L661.25 461 L663.75 461.6 L666.25 462.25 L668.75 463.5 L670.6 466 L672.5 471 L674.4 479.75 L676.25 488.5 L678.1 496 L680 500 L682.5 501.3 L687.5 501.3 L692.5 499.75 L696.25 496 L698.75 492.25 L700 491 L701.9 494 L703.75 493.5 L705.6 491 L707.5 487.25 L709.4 485.4 L711.25 484.75 L713.1 481 L714.4 474.75 L715.4 467.25 L716.25 462.25 L717.5 460.4 L720 459.75 L727 459.75" stroke="#6585c6" stroke-width="1" fill="none"/>
<path d="M0.0 501.0 L8.8 501.0 L10.0 501.0 L11.9 498.1 L13.1 493.4 L14.4 483.7 L15.6 472.3 L17.0 462.6 L30.0 459.8 L31.2 459.8 L33.8 462.4 L35.0 464.9 L37.5 474.2 L40.0 481.5 L42.5 487.1 L45.0 489.4 L46.9 488.4 L49.4 487.1 L51.2 488.7 L53.1 494.9 L55.0 500.9 L57.5 497.1 L59.4 493.4 L61.2 491.1 L63.8 494.6 L66.2 497.9 L68.8 499.9 L71.2 500.0 L73.8 498.5 L76.2 497.1 L78.1 496.5 L80.0 491.7 L81.9 481.9 L83.8 476.1 L86.2 480.9 L88.1 487.5 L90.0 496.1 L92.5 498.2 L95.0 499.7 L96.9 501.4 L98.8 498.3 L100.0 493.2 L101.9 484.4 L103.8 477.0 L105.6 469.6 L107.5 464.6 L110.0 460.8 L115.0 460.4 L118.8 460.7 L122.5 462.0 L125.0 464.1 L127.5 468.6 L129.4 472.4 L131.2 475.9 L133.1 470.9 L135.0 465.9 L137.5 464.2 L140.0 467.0 L142.5 471.5 L145.0 478.1 L147.5 485.9 L150.0 493.6 L152.5 497.9 L155.0 499.8 L157.5 499.2 L160.0 497.5 L162.5 496.1 L164.4 494.6 L166.2 490.8 L168.1 483.3 L169.4 478.0 L171.2 471.7 L173.8 477.8 L176.2 483.3 L178.8 487.0 L181.2 491.1 L183.8 495.8 L185.6 498.4 L187.5 494.3 L189.4 485.4 L190.6 478.3 L191.9 469.6 L193.8 462.2 L196.2 461.8 L198.1 462.4 L200.0 467.6 L201.9 473.9 L203.8 481.2 L205.6 488.6 L207.5 492.9 L210.0 492.4 L212.5 490.3 L215.0 487.5 L216.9 484.4 L218.8 478.3 L220.6 469.5 L222.5 462.2 L225.0 460.7 L227.5 462.0 L230.0 462.5 L231.9 461.7 L233.8 463.6 L235.6 468.7 L237.5 474.6 L239.4 472.1 L241.2 469.7 L243.8 468.9 L246.2 470.1 L248.1 471.0 L250.0 470.7 L251.9 476.5 L253.1 482.0 L254.4 489.9 L256.2 501.6 L258.8 500.5 L261.2 498.9 L263.1 498.6 L265.0 500.5 L266.9 502.2 L268.8 501.5 L270.6 497.0 L272.5 488.0 L274.4 478.0 L276.2 469.6 L278.1 463.5 L280.6 462.4 L282.5 463.0 L283.8 464.2 L285.6 472.5 L287.5 481.3 L290.0 487.4 L292.5 492.8 L294.4 497.5 L296.2 502.2 L298.1 499.6 L300.0 495.9 L302.5 492.8 L305.0 490.0 L306.9 486.8 L308.8 478.2 L310.6 468.3 L315.0 462.2 L316.9 462.3 L318.8 463.6 L320.6 468.8 L322.5 479.0 L324.4 488.9 L326.2 496.1 L328.8 498.5 L331.2 498.7 L333.8 499.3 L336.2 500.1 L338.8 501.3 L341.2 501.0 L343.8 497.1 L346.2 492.6 L348.8 490.6 L351.2 492.0 L353.8 495.8 L356.2 499.4 L358.1 501.6 L360.0 501.2 L361.9 494.0 L363.1 485.3 L364.4 474.4 L365.6 466.1 L367.5 461.7 L370.0 465.0 L372.5 466.9 L375.0 465.3 L377.5 463.0 L380.0 461.4 L382.5 461.4 L385.0 462.4 L387.5 462.5 L391.2 461.3 L395.0 460.7 L397.5 460.9 L398.8 461.8 L400.0 465.7 L401.9 473.6 L403.8 475.9 L405.6 474.2 L407.5 476.2 L409.4 480.1 L411.2 487.5 L413.1 496.1 L415.0 499.2 L416.9 500.5 L418.8 501.5 L420.6 499.0 L422.5 495.7 L424.4 489.4 L426.9 480.9 L429.4 475.5 L431.2 470.8 L433.1 464.6 L435.0 461.0 L438.8 460.4 L441.2 460.7 L443.1 461.7 L445.0 465.0 L446.9 470.1 L448.8 477.3 L451.2 480.1 L453.8 482.4 L455.6 486.1 L457.5 488.7 L459.4 482.5 L461.2 487.4 L463.1 493.6 L465.0 498.6 L467.5 500.6 L470.0 500.5 L471.9 498.5 L473.8 486.9 L475.0 478.5 L476.2 470.6 L478.8 460.8 L482.5 460.4 L485.0 460.7 L487.5 462.8 L490.0 467.4 L492.5 472.4 L495.0 478.1 L497.5 486.3 L500.0 495.6 L501.9 500.9 L503.8 498.5 L506.2 498.6 L508.8 497.6 L511.2 497.5 L513.8 494.1 L516.2 490.5 L518.1 485.8 L520.0 476.9 L521.2 471.9 L523.1 473.8 L525.0 484.1 L526.2 491.5 L528.1 497.1 L530.0 490.7 L532.5 483.7 L535.0 481.0 L537.5 479.6 L538.8 477.1 L540.0 472.5 L541.9 464.7 L543.8 463.5 L546.2 464.9 L548.8 464.7 L550.0 463.4 L551.2 464.6 L552.5 470.9 L553.8 481.8 L555.0 492.9 L556.2 500.1 L558.1 494.4 L560.6 478.0 L562.5 470.6 L564.4 475.1 L566.2 481.2 L568.1 488.7 L570.0 494.7 L572.5 493.1 L575.0 492.1 L577.5 492.1 L580.0 494.2 L582.5 496.4 L585.0 497.2 L587.5 496.9 L590.0 494.9 L591.9 492.2 L593.8 490.5 L596.2 494.5 L598.1 498.4 L600.0 495.7 L601.9 490.4 L603.8 479.6 L605.6 473.5 L608.1 472.6 L610.6 473.9 L612.5 474.9 L614.4 479.0 L616.2 487.5 L618.1 496.2 L620.6 501.8 L623.1 502.2 L625.0 502.1 L626.9 498.7 L628.8 490.7 L630.6 480.8 L632.5 473.2 L634.4 468.3 L636.2 465.3 L638.8 463.1 L641.2 462.4 L643.8 463.8 L645.6 466.1 L647.5 468.3 L650.0 465.7 L652.5 466.3 L655.0 465.9 L657.5 467.4 L659.4 467.7 L661.2 463.4 L663.8 461.2 L666.2 461.8 L668.8 462.6 L670.6 463.6 L672.5 466.3 L674.4 471.5 L676.2 480.0 L678.1 488.7 L680.0 496.2 L682.5 500.4 L687.5 501.3 L692.5 500.3 L696.2 497.8 L698.8 494.9 L700.0 493.1 L701.9 491.2 L703.8 494.0 L705.6 493.4 L707.5 490.8 L709.4 487.2 L711.2 485.4 L713.1 484.6 L714.4 482.0 L715.4 478.6 L716.2 474.4 L717.5 465.5 L720.0 460.2 L727.0 459.8" stroke="#cf8c78" stroke-width="1" fill="none"/>
<g fill="#d9d9d9" fill-opacity="0.6"><rect x="112" y="463.6" width="11" height="7.4" rx="1"/><rect x="125" y="463.6" width="10" height="7.4" rx="1"/><rect x="137" y="463.6" width="9" height="7.4" rx="1"/><rect x="147.5" y="463.6" width="9" height="7.4" rx="1"/></g>
<text x="97.6" y="471.2" text-anchor="end" font-family="Liberation Sans, Arial, sans-serif" font-size="8.35" fill="#2a2a2a">Stoch RSI (3, 3, 14, 14, close)</text>
<text x="163.2" y="470.7" font-family="Liberation Sans, Arial, sans-serif" font-size="8.2" textLength="26.5" lengthAdjust="spacingAndGlyphs" fill="#2f7bd6">97.5832</text>
<text x="196.5" y="470.7" font-family="Liberation Sans, Arial, sans-serif" font-size="8.2" textLength="27" lengthAdjust="spacingAndGlyphs" fill="#f0782a">99.1944</text>
<path d="M0 456.5H767.5M0 506.5H767.5M767.5 0V506.5" stroke="#555" stroke-width="1" fill="none"/>
<line x1="767.5" y1="15.3" x2="770.0" y2="15.3" stroke="#555" stroke-width="1"/>
<line x1="767.5" y1="56.69500000000001" x2="770.0" y2="56.69500000000001" stroke="#555" stroke-width="1"/>
<line x1="767.5" y1="98.09" x2="770.0" y2="98.09" stroke="#555" stroke-width="1"/>
<line x1="767.5" y1="139.485" x2="770.0" y2="139.485" stroke="#555" stroke-width="1"/>
<line x1="767.5" y1="180.88000000000002" x2="770.0" y2="180.88000000000002" stroke="#555" stroke-width="1"/>
<line x1="767.5" y1="222.27500000000003" x2="770.0" y2="222.27500000000003" stroke="#555" stroke-width="1"/>
<line x1="767.5" y1="263.67" x2="770.0" y2="263.67" stroke="#555" stroke-width="1"/>
<line x1="767.5" y1="305.06500000000005" x2="770.0" y2="305.06500000000005" stroke="#555" stroke-width="1"/>
<line x1="767.5" y1="346.46000000000004" x2="770.0" y2="346.46000000000004" stroke="#555" stroke-width="1"/>
<line x1="767.5" y1="387.855" x2="770.0" y2="387.855" stroke="#555" stroke-width="1"/>
<line x1="767.5" y1="429.25000000000006" x2="770.0" y2="429.25000000000006" stroke="#555" stroke-width="1"/>
<line x1="767.5" y1="460.5" x2="770.0" y2="460.5" stroke="#555" stroke-width="1"/>
<line x1="767.5" y1="481.5" x2="770.0" y2="481.5" stroke="#555" stroke-width="1"/>
<line x1="767.5" y1="502.5" x2="770.0" y2="502.5" stroke="#555" stroke-width="1"/>
<g font-family="Liberation Sans, Arial, sans-serif" font-size="7.5" fill="#666"><text x="771.5" y="17.9">96.00</text><text x="771.5" y="59.3">95.50</text><text x="771.5" y="100.7">95.00</text><text x="771.5" y="142.1">94.50</text><text x="771.5" y="183.5">94.00</text><text x="771.5" y="224.9">93.50</text><text x="771.5" y="266.3">93.00</text><text x="771.5" y="307.7">92.50</text><text x="771.5" y="349.1">92.00</text><text x="771.5" y="390.5">91.50</text><text x="771.5" y="431.9">91.00</text><text x="771.5" y="463.1">100.0000</text><text x="771.5" y="484.1">50.0000</text><text x="771.5" y="505.1">0.0000</text></g>
<rect x="767.7" y="240.2" width="25.2" height="10.2" fill="#d2473c"/>
<text x="772" y="248" font-family="Liberation Sans, Arial, sans-serif" font-size="7.5" fill="#fff">93.23</text>
<rect x="770.2" y="251.6" width="22.6" height="10" fill="#d2473c"/>
<text x="772.3" y="259.4" font-family="Liberation Sans, Arial, sans-serif" font-size="7.5" fill="#fff">58.53</text>
<line x1="35" y1="506.5" x2="35" y2="509.0" stroke="#555" stroke-width="1"/>
<line x1="104.5" y1="506.5" x2="104.5" y2="509.0" stroke="#555" stroke-width="1"/>
<line x1="159.5" y1="506.5" x2="159.5" y2="509.0" stroke="#555" stroke-width="1"/>
<line x1="214.5" y1="506.5" x2="214.5" y2="509.0" stroke="#555" stroke-width="1"/>
<line x1="269.3" y1="506.5" x2="269.3" y2="509.0" stroke="#555" stroke-width="1"/>
<line x1="324" y1="506.5" x2="324" y2="509.0" stroke="#555" stroke-width="1"/>
<line x1="379.3" y1="506.5" x2="379.3" y2="509.0" stroke="#555" stroke-width="1"/>
<line x1="434" y1="506.5" x2="434" y2="509.0" stroke="#555" stroke-width="1"/>
<line x1="507.5" y1="506.5" x2="507.5" y2="509.0" stroke="#555" stroke-width="1"/>
<line x1="599" y1="506.5" x2="599" y2="509.0" stroke="#555" stroke-width="1"/>
<line x1="652.5" y1="506.5" x2="652.5" y2="509.0" stroke="#555" stroke-width="1"/>
<line x1="747.5" y1="506.5" x2="747.5" y2="509.0" stroke="#555" stroke-width="1"/>
<g font-family="Liberation Sans, Arial, sans-serif" font-size="7.5" fill="#666"><text x="35" y="515.8" text-anchor="middle" font-weight="bold" fill="#444">Sep</text><text x="104.5" y="515.8" text-anchor="middle">11</text><text x="159.5" y="515.8" text-anchor="middle">18</text><text x="214.5" y="515.8" text-anchor="middle">25</text><text x="269.3" y="515.8" text-anchor="middle" font-weight="bold" fill="#444">Oct</text><text x="324" y="515.8" text-anchor="middle">9</text><text x="379.3" y="515.8" text-anchor="middle">16</text><text x="434" y="515.8" text-anchor="middle">23</text><text x="507.5" y="515.8" text-anchor="middle" font-weight="bold" fill="#444">Nov</text><text x="599" y="515.8" text-anchor="middle">13</text><text x="652.5" y="515.8" text-anchor="middle">20</text><text x="747.5" y="515.8" text-anchor="middle" font-weight="bold" fill="#444">Dec</text></g>
</svg>
</body></html>
